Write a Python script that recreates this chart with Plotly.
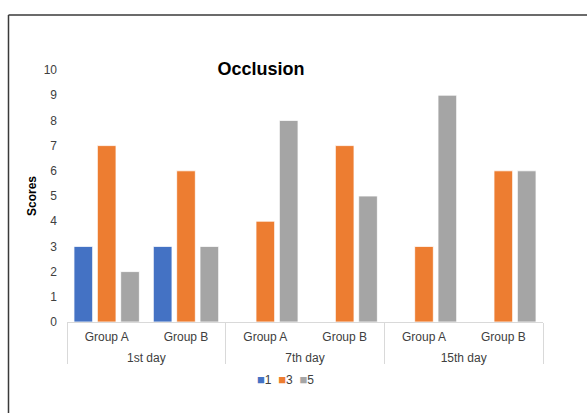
import plotly.graph_objects as go

# Category labels (two-level x axis)
days = ["1st day", "1st day", "7th day", "7th day", "15th day", "15th day"]
groups = ["Group A", "Group B", "Group A", "Group B", "Group A", "Group B"]
day_names = ["1st day", "7th day", "15th day"]

# Score series
series_names = ["1", "3", "5"]
score_1 = [3, 3, None, None, None, None]
score_3 = [7, 6, 4, 7, 3, 6]
score_5 = [2, 3, 8, 5, 9, 6]
colors = ["#4472C4", "#ED7D31", "#A5A5A5"]

# one unique category per (day, group) pair; only the group name is shown
keys = [f"{d} / {g}" for d, g in zip(days, groups)]

fig = go.Figure()
for name, vals, col in zip(series_names, [score_1, score_3, score_5], colors):
    fig.add_trace(go.Bar(
        x=keys, y=vals, name=name,
        marker=dict(color=col, line=dict(color="white", width=0.8)),
        showlegend=False,
    ))

# empty trace so the day axis gets drawn
fig.add_trace(go.Scatter(x=[None], y=[None], xaxis="x2", yaxis="y",
                         mode="markers", showlegend=False, hoverinfo="skip"))

# compact legend: coloured squares followed by series names
legend_text = "  ".join(
    f"<span style='color:{c};font-size:13px'>■</span>{n}"
    for n, c in zip(series_names, colors)
)

n_cat = len(keys)
fig.update_layout(
    width=587, height=413,
    margin=dict(l=67, r=44, t=70, b=91),
    paper_bgcolor="white", plot_bgcolor="white",
    barmode="group", bargap=0.117, bargroupgap=0.2,
    font=dict(family="Liberation Sans, Arial, sans-serif", size=12, color="#595959"),
    title=dict(text="<b>Occlusion</b>", x=261 / 587, xanchor="center",
               y=1 - 69 / 413, yanchor="middle",
               font=dict(size=18, color="black")),
    showlegend=False,
    annotations=[dict(text=legend_text, xref="paper", yref="paper",
                      x=0.458, y=-0.23, xanchor="center", yanchor="middle",
                      showarrow=False, font=dict(size=12, color="#404040"))],
    shapes=[
        dict(type="line", xref="paper", yref="paper", x0=-0.1229, x1=-0.1229, y0=-0.5, y1=1.2183,
             line=dict(color="#3a3a3a", width=1.5)),
        dict(type="line", xref="paper", yref="paper", x0=-0.1229, x1=1.2, y0=1.2183, y1=1.2183,
             line=dict(color="#3a3a3a", width=1.5)),
    ],
    # group row
    xaxis=dict(
        type="category", range=[-0.5, n_cat - 0.5],
        tickmode="array", tickvals=keys, ticktext=groups,
        showline=True, linecolor="#D9D9D9", linewidth=1,
        ticks="", tickfont=dict(size=12, color="#404040"),
        ticklabelstandoff=4, showgrid=False, zeroline=False,
    ),
    # day row with dividers between days
    xaxis2=dict(
        overlaying="x", anchor="y", side="bottom", type="linear",
        range=[-0.5, n_cat - 0.5],
        tickmode="array", tickvals=[0.5, 2.5, 4.5], ticktext=day_names,
        ticks="", tickfont=dict(size=12, color="#404040"),
        ticklabelstandoff=27, showgrid=False, zeroline=False, showline=False,
        minor=dict(tickmode="array", tickvals=[-0.5, 1.5, 3.5, 5.5],
                   ticks="outside", ticklen=41, tickcolor="#D9D9D9", tickwidth=1,
                   showgrid=False),
    ),
    yaxis=dict(
        range=[0, 10], dtick=1, showgrid=False, zeroline=False, showline=False,
        tickfont=dict(size=12, color="#404040"), ticks="", ticklabelstandoff=9,
        title=dict(text="<b>Scores</b>", font=dict(size=12, color="black"), standoff=4),
    ),
)

fig.write_html("out.html")
